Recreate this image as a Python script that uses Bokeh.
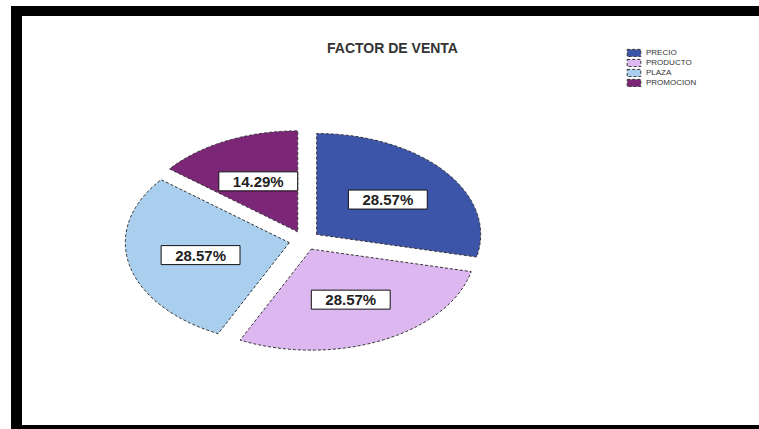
import numpy as np
from bokeh.plotting import figure
from bokeh.layouts import column, row
from bokeh.models import ColumnDataSource, Label, Legend, LegendItem, Range1d, Spacer
from bokeh.core.properties import value
from bokeh.embed import file_html
from bokeh.resources import INLINE

# ---- data ----
title_text = "FACTOR DE VENTA"
categories = ["PRECIO", "PRODUCTO", "PLAZA", "PROMOCION"]
counts = [2, 2, 2, 1]
colors = ["#3D55A8", "#DDB8F0", "#AACFEE", "#7B2677"]

total = float(sum(counts))
fracs = [c / total for c in counts]
pct_labels = ["%.2f%%" % (f * 100) for f in fracs]

# ---- geometry (styling) ----
explode = 0.095
label_r = 0.555
n_arc = 120

xs, ys, lx, ly = [], [], [], []
cum = 0.0
for f in fracs:
    a0 = np.pi / 2 - cum * 2 * np.pi
    a1 = a0 - f * 2 * np.pi
    mid = (a0 + a1) / 2
    cx, cy = explode * np.cos(mid), explode * np.sin(mid)
    t = np.linspace(a0, a1, n_arc)
    px = np.concatenate([[cx], cx + np.cos(t), [cx]])
    py = np.concatenate([[cy], cy + np.sin(t), [cy]])
    xs.append(list(px))
    ys.append(list(py))
    lx.append(cx + label_r * np.cos(mid))
    ly.append(cy + label_r * np.sin(mid))
    cum += f

src = ColumnDataSource(dict(xs=xs, ys=ys, color=colors, cat=categories))
lsrc = ColumnDataSource(dict(x=lx, y=ly, pct=pct_labels))

# frame is 737 x 409 px; pie centre at (282, 224) px from frame top-left
FW, FH = 737, 409
CX, CY = 282, 224
RX, RY = 164.0, 101.0

p = figure(width=FW, height=FH, output_backend="svg", toolbar_location=None,
           title=None, x_axis_location=None, y_axis_location=None,
           x_range=Range1d(-CX / RX, (FW - CX) / RX),
           y_range=Range1d(-(FH - CY) / RY, CY / RY),
           min_border_left=0, min_border_top=0, min_border_right=0, min_border_bottom=0,
           border_fill_color="white", background_fill_color="white",
           outline_line_color=None)
p.grid.visible = False

r = p.patches("xs", "ys", source=src, fill_color="color", line_color="#333333",
              line_width=1, line_dash="3 2")

p.text(x="x", y="y", text="pct", source=lsrc, text_align="center",
       text_baseline="middle", text_font=value("Liberation Sans"),
       text_font_size="15px", text_font_style="bold", text_color="#222222",
       background_fill_color="white", border_line_color="#111111",
       border_line_width=1, padding=(14, 1))

p.add_layout(Label(x=370, y=378, x_units="screen", y_units="screen",
                   text=title_text, text_align="center", text_baseline="middle",
                   text_font="Liberation Sans", text_font_size="14px",
                   text_font_style="bold", text_color="#333333"))

items = [LegendItem(label=categories[i], renderers=[r], index=i)
         for i in range(len(categories))]
legend = Legend(items=items, location=(603, 338), glyph_width=17, glyph_height=9,
                label_height=9, label_text_font_size="8px", spacing=1, padding=0,
                margin=0, border_line_color=None, background_fill_alpha=0,
                label_standoff=4, label_text_font="Liberation Sans",
                label_text_color="#333333")
p.add_layout(legend)

black = {"background-color": "black"}
framed = column(
    Spacer(width=748, height=10, styles=black),
    row(Spacer(width=11, height=FH, styles=black), p),
    Spacer(width=748, height=4, styles=black),
)
page = column(Spacer(width=759, height=6), row(Spacer(width=11, height=423), framed))

open("out.html", "w").write(file_html(page, INLINE))
